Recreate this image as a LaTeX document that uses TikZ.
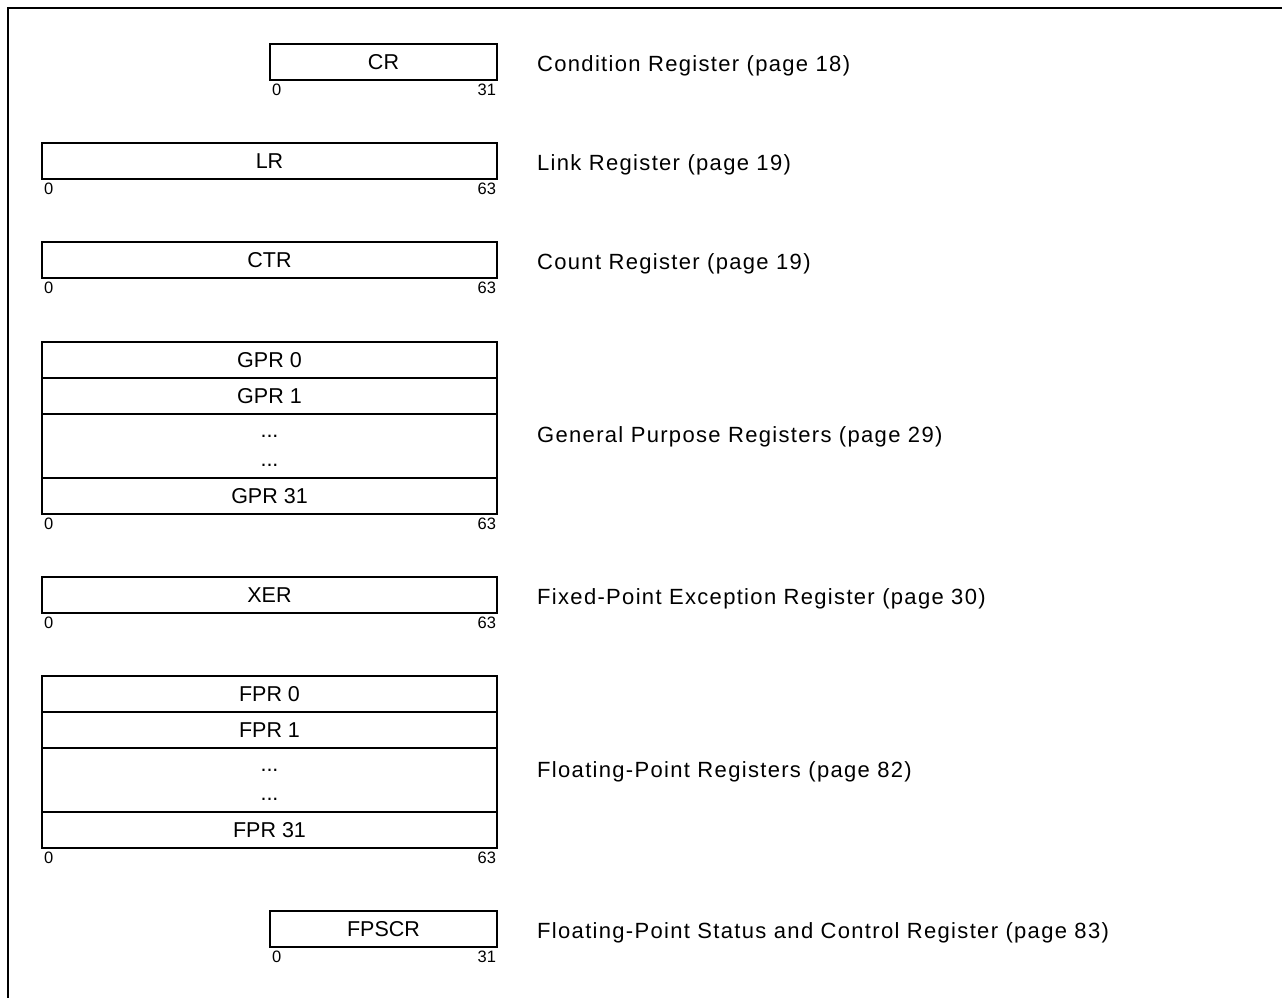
\documentclass[tikz,border=0pt]{standalone}
\usepackage{fontspec}
\setmainfont{Liberation Sans}
\newfontfamily\spacedfont[LetterSpace=6]{Liberation Sans}
\usepackage{tikz}
\usetikzlibrary{positioning}
\newcommand{\regfont}{\fontsize{21.5}{25}\selectfont}
\newcommand{\descfont}{\spacedfont\fontsize{22}{25}\selectfont}
\newcommand{\bitfont}{\fontsize{16.5}{19}\selectfont}
\tikzstyle{reg} = [draw, line width=1.5pt, minimum height=36pt, inner sep=0pt, outer sep=0pt, font=\regfont]
\tikzstyle{wide} = [reg, minimum width=455pt]
\tikzstyle{narrow} = [reg, minimum width=227pt]
\tikzstyle{dots} = [wide, minimum height=64pt, align=center, text height=41pt]
\tikzstyle{bit} = [inner sep=1pt, outer sep=0pt, font=\bitfont]
\tikzstyle{desc} = [anchor=base west, inner sep=0pt, font=\descfont]

\begin{document}
\begin{tikzpicture}[x=1pt, y=-1pt]
			\useasboundingbox (0,0) rectangle (1282,998);
			\draw[line width=1.5pt] (8,998) -- (8,8) -- (1282,8);
			% single registers
			\node[narrow, anchor=north west] (cr) at (270,44) {CR};
			\node[wide, anchor=north west] (lr) at (42,143) {LR};
			\node[wide, anchor=north west] (ctr) at (42,242) {CTR};
			\node[wide, anchor=north west] (xer) at (42,577) {XER};
			\node[narrow, anchor=north west] (fpscr) at (270,911) {FPSCR};
			% register files
			\node[wide, anchor=north west] (gpr0) at (42,342) {GPR 0};
			\node[wide, below = 0pt of gpr0] (gpr1) {GPR 1};
			\node[dots, below = 0pt of gpr1] (gprdots) {...\\[4pt]...};
			\node[wide, below = 0pt of gprdots] (gpr31) {GPR 31};
			\node[wide, anchor=north west] (fpr0) at (42,676) {FPR 0};
			\node[wide, below = 0pt of fpr0] (fpr1) {FPR 1};
			\node[dots, below = 0pt of fpr1] (fprdots) {...\\[4pt]...};
			\node[wide, below = 0pt of fprdots] (fpr31) {FPR 31};
			% bit numbers
			\node[bit, below right = 3pt and 1pt of cr.south west] {0};
			\node[bit, below left = 3pt and 0pt of cr.south east] {31};
			\node[bit, below right = 3pt and 1pt of lr.south west] {0};
			\node[bit, below left = 3pt and 0pt of lr.south east] {63};
			\node[bit, below right = 3pt and 1pt of ctr.south west] {0};
			\node[bit, below left = 3pt and 0pt of ctr.south east] {63};
			\node[bit, below right = 3pt and 1pt of gpr31.south west] {0};
			\node[bit, below left = 3pt and 0pt of gpr31.south east] {63};
			\node[bit, below right = 3pt and 1pt of xer.south west] {0};
			\node[bit, below left = 3pt and 0pt of xer.south east] {63};
			\node[bit, below right = 3pt and 1pt of fpr31.south west] {0};
			\node[bit, below left = 3pt and 0pt of fpr31.south east] {63};
			\node[bit, below right = 3pt and 1pt of fpscr.south west] {0};
			\node[bit, below left = 3pt and 0pt of fpscr.south east] {31};
			% descriptions
			\node[desc] (crtext) at (537,71) {Condition Register (page 18)};
			\node[desc] (lrtext) at (537,170) {Link Register (page 19)};
			\node[desc] (ctrtext) at (537,269) {Count Register (page 19)};
			\node[desc] (gprtext) at (537,442) {General Purpose Registers (page 29)};
			\node[desc] (xertext) at (537,604) {Fixed-Point Exception Register (page 30)};
			\node[desc] (fprtext) at (537,777) {Floating-Point Registers (page 82)};
			\node[desc] (fpscrtext) at (537,938) {Floating-Point Status and Control Register (page 83)};
		\end{tikzpicture}
\end{document}
